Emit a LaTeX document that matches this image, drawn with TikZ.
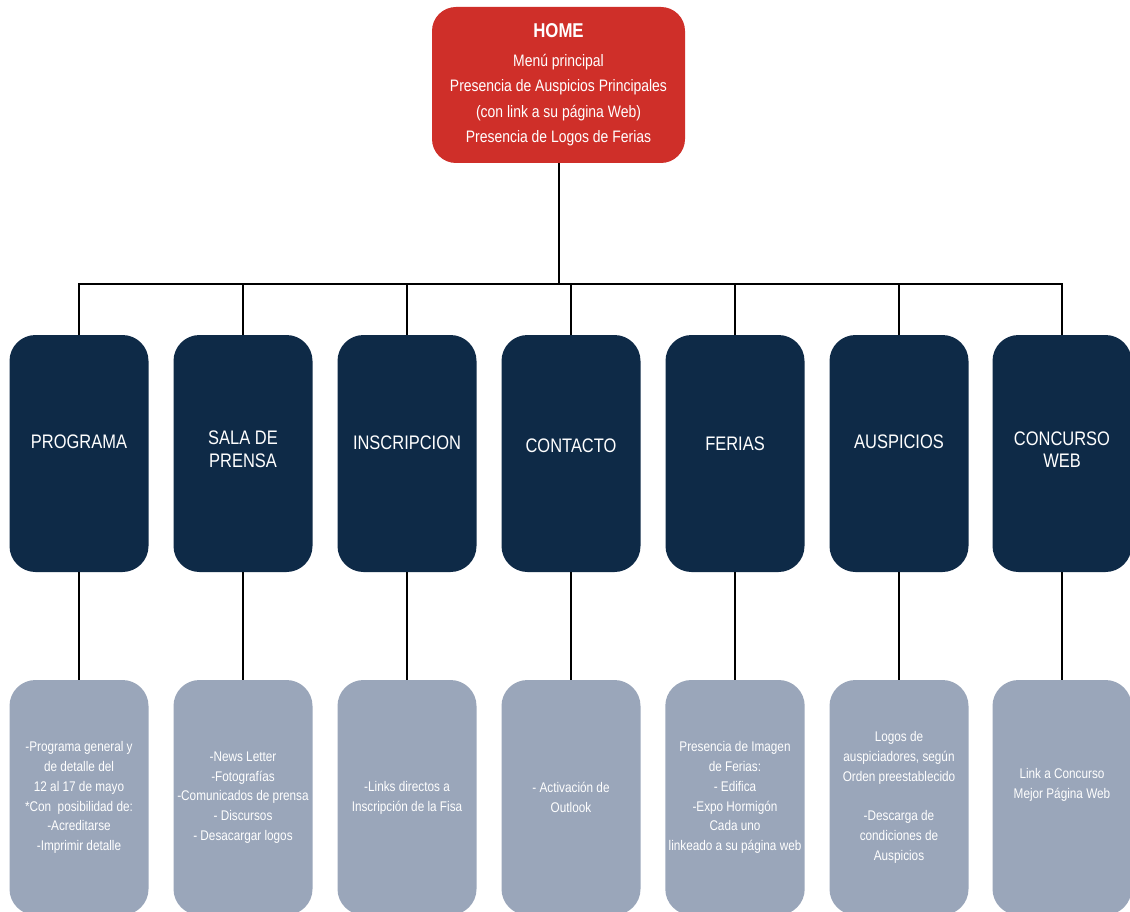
\documentclass[tikz,border=0pt]{standalone}
\usepackage{fontspec}
\setmainfont{Liberation Sans}[FakeStretch=0.84]
\usepackage{tikz}
\definecolor{homered}{HTML}{CF2F29}
\definecolor{navy}{HTML}{0E2A47}
\definecolor{greyblue}{HTML}{9AA6BA}
\tikzset{
         homebox/.style={fill=homered,rounded corners=24pt,minimum width=253pt,minimum height=156pt,
          text=white,align=center,font=\fontsize{16.6}{25.5}\selectfont},
         secbox/.style={fill=navy,rounded corners=26pt,minimum width=139pt,minimum height=237pt},
         sectext/.style={text=white,align=center,font=\fontsize{19.6}{22.5}\selectfont},
         infobox/.style={fill=greyblue,rounded corners=26pt,minimum width=139pt,minimum height=235pt,
          text=white,align=center,font=\fontsize{14}{19.8}\selectfont},
         link/.style={line width=2pt,black}
        }
\begin{document}
\begin{tikzpicture}[x=1pt,y=-1pt]
\useasboundingbox(0,0)rectangle(1130,912);
\fill[white](0,0)rectangle(1130,912);
%top
\node[homebox](home)at(558.5,85){{\fontsize{20}{22}\selectfont\bfseries HOME}\\[3pt]
Menú principal\\Presencia de Auspicios Principales\\(con link a su página Web)\\Presencia de Logos de Ferias};
\coordinate(bus)at(558.5,284);
%sections
\node[secbox](prog)at(79,453.5){};
\node[secbox](sala)at(243,453.5){};
\node[secbox](insc)at(407,453.5){};
\node[secbox](cont)at(571,453.5){};
\node[secbox](fer)at(735,453.5){};
\node[secbox](ausp)at(899,453.5){};
\node[secbox](conc)at(1062,453.5){};
\node[sectext,yshift=12pt]at(prog.center){PROGRAMA};
\node[sectext,yshift=4pt]at(sala.center){SALA DE\\PRENSA};
\node[sectext,yshift=11pt]at(insc.center){INSCRIPCION};
\node[sectext,yshift=8pt]at(cont.center){CONTACTO};
\node[sectext,yshift=10pt]at(fer.center){FERIAS};
\node[sectext,yshift=12pt]at(ausp.center){AUSPICIOS};
\node[sectext,yshift=4pt]at(conc.center){CONCURSO\\WEB};
%details
\node[infobox](prog-info)at(79,797.5){-Programa general y\\de detalle del\\12 al 17 de mayo\\*Con\ \ posibilidad de:\\-Acreditarse\\-Imprimir detalle};
\node[infobox](sala-info)at(243,797.5){-News Letter\\-Fotografías\\-Comunicados de prensa\\- Discursos\\- Desacargar logos};
\node[infobox](insc-info)at(407,797.5){-Links directos a\\Inscripción de la Fisa};
\node[infobox](cont-info)at(571,797.5){- Activación de\\Outlook};
\node[infobox](fer-info)at(735,797.5){Presencia de Imagen\\de Ferias:\\- Edifica\\-Expo Hormigón\\Cada uno\\linkeado a su página web};
\node[infobox](ausp-info)at(899,797.5){Logos de\\auspiciadores, según\\Orden preestablecido\\[19.8pt]-Descarga de\\condiciones de\\Auspicios};
\node[infobox](conc-info)at(1062,797.5){Link a Concurso\\Mejor Página Web\\[8pt]};
%lines
\draw[link](home.south)--(bus);
\draw[link](prog.north)|-(bus)-|(conc.north);
\foreach \s in {sala,insc,cont,fer,ausp}
 \draw[link](\s.north)--(\s.north|-bus);
\foreach \s in {prog,sala,insc,cont,fer,ausp,conc}
 \draw[link](\s.south)--(\s-info.north);
\end{tikzpicture}
\end{document}
